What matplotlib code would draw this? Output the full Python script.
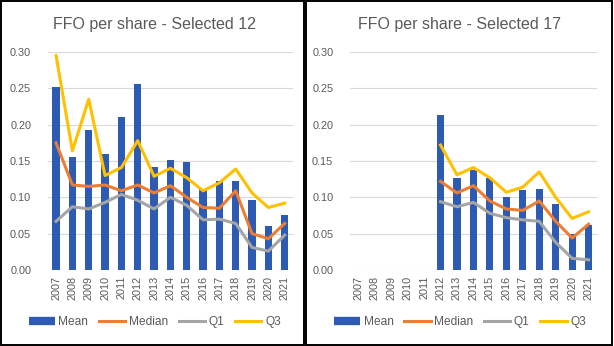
import matplotlib
matplotlib.use('agg')
import matplotlib.pyplot as plt
from matplotlib.patches import Rectangle
from matplotlib.lines import Line2D
import numpy as np

plt.rcParams['font.family'] = ['Liberation Sans', 'DejaVu Sans']

years = [str(y) for y in range(2007, 2022)]

# Selected 12
mean_12 = [0.252, 0.156, 0.193, 0.160, 0.211, 0.256, 0.142, 0.152, 0.149, 0.112, 0.123, 0.123, 0.097, 0.061, 0.075]
median_12 = [0.175, 0.117, 0.115, 0.117, 0.109, 0.117, 0.106, 0.116, 0.100, 0.086, 0.085, 0.109, 0.050, 0.043, 0.064]
q1_12 = [0.067, 0.087, 0.084, 0.093, 0.104, 0.096, 0.084, 0.100, 0.089, 0.069, 0.070, 0.064, 0.031, 0.026, 0.048]
q3_12 = [0.295, 0.164, 0.235, 0.130, 0.141, 0.178, 0.129, 0.140, 0.127, 0.109, 0.120, 0.139, 0.106, 0.086, 0.092]

# Selected 17 (no data before 2012)
nan = np.nan
mean_17 = [nan] * 5 + [0.213, 0.127, 0.138, 0.126, 0.100, 0.110, 0.111, 0.091, 0.049, 0.062]
median_17 = [nan] * 5 + [0.122, 0.106, 0.116, 0.095, 0.084, 0.082, 0.095, 0.067, 0.044, 0.063]
q1_17 = [nan] * 5 + [0.094, 0.087, 0.093, 0.078, 0.072, 0.069, 0.067, 0.038, 0.016, 0.014]
q3_17 = [nan] * 5 + [0.172, 0.131, 0.141, 0.127, 0.107, 0.114, 0.135, 0.100, 0.071, 0.080]

C_MEAN = '#2D5BB3'
C_MED = '#ED7D31'
C_Q1 = '#A5A5A5'
C_Q3 = '#FFC000'
TXT = '#595959'

fig = plt.figure(figsize=(6.14, 3.46), dpi=100)


def panel(rect, title, title_x, mean, median, q1, q3):
    ax = fig.add_axes(rect)
    x = np.arange(len(years))
    ax.bar(x, mean, width=0.44, color=C_MEAN, zorder=2)
    ax.plot(x, median, color=C_MED, lw=2.2, zorder=3)
    ax.plot(x, q1, color=C_Q1, lw=2.2, zorder=3)
    ax.plot(x, q3, color=C_Q3, lw=2.2, zorder=3)
    ax.set_xlim(-0.5, len(years) - 0.5)
    ax.set_ylim(0, 0.30)
    ax.set_yticks(np.arange(0, 0.31, 0.05))
    ax.set_yticklabels([f'{v:.2f}' for v in np.arange(0, 0.31, 0.05)])
    ax.set_xticks(x)
    ax.set_xticklabels(years, rotation=90)
    ax.tick_params(length=0, labelsize=7.8, labelcolor=TXT, pad=4)
    ax.tick_params(axis='y', pad=12)
    ax.grid(axis='y', color='#D9D9D9', lw=0.8, zorder=0)
    ax.set_axisbelow(True)
    for s in ax.spines.values():
        s.set_visible(False)
    fig.text(title_x, 0.928, title, ha='center', va='center', fontsize=11.5, color=TXT)
    handles = [Line2D([], [], color=C_MEAN, lw=6, solid_capstyle='butt'),
               Line2D([], [], color=C_MED, lw=2.2),
               Line2D([], [], color=C_Q1, lw=2.2),
               Line2D([], [], color=C_Q3, lw=2.2)]
    fig.legend(handles, ['Mean', 'Median', 'Q1', 'Q3'], loc='center',
               bbox_to_anchor=(title_x, 0.069), ncol=4, frameon=False,
               fontsize=8.6, labelcolor=TXT, handlelength=2.2,
               handletextpad=0.3, columnspacing=0.9)
    return ax


panel([0.078, 0.2197, 0.399, 0.63], 'FFO per share - Selected 12', 0.252,
      mean_12, median_12, q1_12, q3_12)
panel([0.570, 0.2197, 0.402, 0.63], 'FFO per share - Selected 17', 0.749,
      mean_17, median_17, q1_17, q3_17)

# panel borders
fig.patches.append(Rectangle((0.002, 0.003), 0.493, 0.993, transform=fig.transFigure,
                             fill=False, edgecolor='black', lw=1.4))
fig.patches.append(Rectangle((0.499, 0.003), 0.498, 0.993, transform=fig.transFigure,
                             fill=False, edgecolor='black', lw=1.4))

fig.savefig('out.png', dpi=100)
